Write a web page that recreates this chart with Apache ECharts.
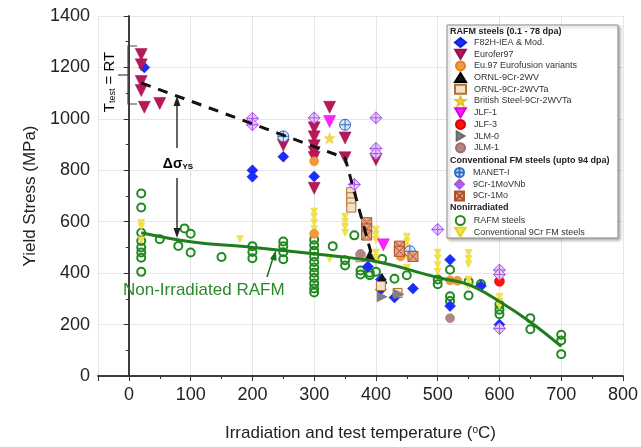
<!DOCTYPE html>
<html>
<head>
<meta charset="utf-8">
<script src="https://cdn.jsdelivr.net/npm/echarts@6/dist/echarts.min.js"></script>
<style>
html,body{margin:0;padding:0;background:#fff;}
#main{width:641px;height:447px;}
</style>
</head>
<body>
<div id="main"></div>
<script>
// 数据 [温度, 屈服强度]
var f82h = [[25,1200],[200,800],[200,775],[250,853],[300,776],[387,426],[408,375],[408,336],[430,305],[460,340],[520,452],[520,272],[570,350],[600,200]];
var eurofer = [[20,1250],[20,1210],[20,1145],[20,1110],[25,1045],[50,1060],[250,898],[300,965],[300,930],[300,895],[300,870],[300,850],[300,730],[325,1045],[350,926],[350,849],[400,841]];
var eu97 = [[300,835],[300,553],[440,465],[520,372],[532,370]];
var ornlWV = [[390,470],[410,380]];
var ornlWVTa = [[360,715],[360,695],[360,675],[360,655],[375,462],[408,350],[435,323]];
var british = [[325,925]];
var jlf1 = [[325,990],[412,510]];
var jlf3 = [[600,368]];
var jlm0 = [[410,308],[437,318]];
var jlm1 = [[375,475],[520,225]];
var manet = [[250,932],[350,977],[455,485]];
var cr1MoVNb = [[200,1002],[200,977],[300,1004],[365,745],[400,1004],[400,885],[400,865],[500,570],[600,412],[600,395],[600,185]];
var cr1Mo = [[385,596],[385,572],[385,548],[438,505],[438,485],[460,465]];
var rafmNon = [[20,710],[20,655],[20,557],[20,525],[20,500],[20,480],[20,460],[20,405],
    [50,532],[80,506],[90,574],[100,553],[100,480],[150,463],
    [200,505],[200,482],[200,458],[250,523],[250,505],[250,481],[250,454],
    [300,530],[300,508],[300,487],[300,464],[300,443],[300,422],[300,402],[300,381],[300,360],[300,340],[300,325],
    [330,505],[350,450],[350,430],[365,547],[375,410],[375,395],[390,402],[390,392],[400,405],[410,455],
    [430,378],[450,392],[500,357],[500,375],[520,413],[520,310],[520,292],[550,313],[550,367],[570,358],
    [600,278],[600,258],[600,240],[650,225],[650,182],[700,160],[700,138],[700,85]];
var conv9Cr = [[20,596],[20,580],[20,528],[180,533],[300,640],[300,620],[300,597],[300,572],[325,455],
    [350,620],[350,600],[350,580],[350,557],[400,569],[400,549],[400,530],[400,480],[400,460],[400,442],
    [450,542],[450,522],[450,500],[450,465],[450,421],[500,480],[500,458],[500,432],[500,406],
    [550,478],[550,455],[550,435],[550,375],[550,350],[600,308],[600,290],[600,272]];
var irrTrend = [[20,1140],[350,848],[392,480]];
var nonIrrFit = [[20,557],[100,522],[200,500],[300,475],[400,445],[500,383],[550,355],[600,290],[650,210],[700,115]];

var legend1 = ['F82H-IEA & Mod.','Eurofer97','Eu.97 Eurofusion variants','ORNL-9Cr-2WV','ORNL-9Cr-2WVTa','British Steel-9Cr-2WVTa','JLF-1','JLF-3','JLM-0','JLM-1'];
var legend2 = ['MANET-I','9Cr-1MoVNb','9Cr-1Mo'];
var legend3 = ['RAFM steels','Conventional 9Cr FM steels'];

var TRI_DOWN = 'path://M-10,-8 L10,-8 L0,9 Z';
var TRI_RIGHT = 'path://M-8,-10 L9,0 L-8,10 Z';
var STAR = 'path://M0,-10 L2.35,-3.24 L9.51,-3.09 L3.8,1.24 L5.88,8.09 L0,4 L-5.88,8.09 L-3.8,1.24 L-9.51,-3.09 L-2.35,-3.24 Z';
var CIRCLE_CROSS = 'path://M10,0 A10,10 0 1 1 -10,0 A10,10 0 1 1 10,0 Z M-10,0 L10,0 M0,-10 L0,10';
var DIAMOND_CROSS = 'path://M0,-10 L10,0 L0,10 L-10,0 Z M-10,0 L10,0 M0,-10 L0,10';
var SQUARE_X = 'path://M-10,-10 L10,-10 L10,10 L-10,10 Z M-10,-10 L10,10 M10,-10 L-10,10';

function scatter(name, data, symbol, size, fill, border, bw) {
    return {
        name: name,
        type: 'scatter',
        data: data,
        symbol: symbol,
        symbolSize: size,
        itemStyle: {color: fill, borderColor: border, borderWidth: bw, opacity: 1}
    };
}

function legendBlock(top, names) {
    return {
        data: names,
        orient: 'vertical',
        left: 454,
        top: top,
        padding: 0,
        itemWidth: 11,
        itemHeight: 9,
        itemGap: 0.7,
        selectedMode: false,
        textStyle: {fontSize: 9, lineHeight: 10, color: '#333', fontFamily: 'Liberation Sans, Arial, sans-serif', padding: [0, 0, 0, 3]}
    };
}

function header(y, text) {
    return {
        type: 'text', z: 100,
        style: {x: 450, y: y, text: text, fill: '#222', font: 'bold 9px "Liberation Sans", Arial, sans-serif', verticalAlign: 'middle'}
    };
}

var myChart = echarts.init(document.getElementById('main'));
var axisColor = '#333';
var option = {
    animation: false,
    textStyle: {fontFamily: 'Liberation Sans, Arial, sans-serif'},
    grid: {left: 98, right: 14, top: 16, bottom: 70},
    xAxis: [{
        type: 'value', min: -50, max: 800, splitNumber: 8,
        axisLine: {lineStyle: {color: axisColor, width: 1.5}},
        axisTick: {length: 5, lineStyle: {color: axisColor}},
        minorTick: {show: true, splitNumber: 2, length: 3, lineStyle: {color: axisColor}},
        axisLabel: {showMinLabel: false, fontSize: 18, color: '#222', margin: 10},
        splitLine: {lineStyle: {color: '#e6e6e6'}},
        name: 'Irradiation and test temperature ({s|o}C)',
        nameLocation: 'middle', nameGap: 49,
        nameTextStyle: {fontSize: 17, color: '#222', rich: {s: {fontSize: 10, verticalAlign: 'top', color: '#222'}}}
    }, {
        type: 'value', min: -50, max: 800, splitNumber: 8, position: 'top',
        axisLine: {lineStyle: {color: axisColor, width: 1.5}},
        axisTick: {inside: true, length: 5, lineStyle: {color: axisColor}},
        minorTick: {show: true, splitNumber: 2, length: 3, lineStyle: {color: axisColor}},
        axisLabel: {show: false},
        splitLine: {show: false}
    }],
    yAxis: [{
        type: 'value', min: 0, max: 1400, interval: 200,
        axisLine: {show: true, lineStyle: {color: axisColor, width: 1.5}},
        axisTick: {show: true, length: 5, lineStyle: {color: axisColor}},
        minorTick: {show: true, splitNumber: 2, length: 3, lineStyle: {color: axisColor}},
        axisLabel: {fontSize: 18, color: '#222', margin: 8, formatter: function (v) { return String(v); }},
        splitLine: {lineStyle: {color: '#e6e6e6'}},
        name: 'Yield Stress (MPa)', nameLocation: 'middle', nameGap: 55,
        nameTextStyle: {fontSize: 17, color: '#222'}
    }, {
        type: 'value', min: 0, max: 1400, interval: 200, position: 'right',
        axisLine: {show: true, lineStyle: {color: axisColor, width: 1.5}},
        axisTick: {show: true, inside: true, length: 5, lineStyle: {color: axisColor}},
        minorTick: {show: true, splitNumber: 2, length: 3, lineStyle: {color: axisColor}},
        axisLabel: {show: false},
        splitLine: {show: false}
    }],
    legend: [legendBlock(37, legend1), legendBlock(167, legend2), legendBlock(215, legend3)],
    series: [
        scatter('RAFM steels', rafmNon, 'circle', 8, 'rgba(255,255,255,0)', '#1f8a1f', 2),
        scatter('Conventional 9Cr FM steels', conv9Cr, TRI_DOWN, 7, '#f2e34a', '#e8d230', 0.5),
        {
            type: 'line', data: nonIrrFit, smooth: 0.4, symbol: 'none', z: 3,
            lineStyle: {color: '#1e7d1e', width: 3}
        },
        scatter('F82H-IEA & Mod.', f82h, 'diamond', 11, '#1a2cff', '#1020d0', 0.5),
        scatter('Eurofer97', eurofer, TRI_DOWN, 12, '#b8185a', '#961048', 0.5),
        scatter('Eu.97 Eurofusion variants', eu97, 'circle', 9, '#f29a3a', '#e08020', 0.5),
        scatter('ORNL-9Cr-2WV', ornlWV, 'triangle', 10, '#111', '#000', 0.5),
        scatter('ORNL-9Cr-2WVTa', ornlWVTa, 'rect', 9, '#f1e2c6', '#b0703a', 1),
        scatter('British Steel-9Cr-2WVTa', british, STAR, 11, '#f7d840', '#e8c020', 0.5),
        scatter('JLF-1', jlf1, TRI_DOWN, 12, '#ff22ff', '#e000e0', 0.5),
        scatter('JLF-3', jlf3, 'circle', 10, '#ff1010', '#e00000', 0.5),
        scatter('JLM-0', jlm0, TRI_RIGHT, 10, '#808080', '#666', 0.5),
        scatter('JLM-1', jlm1, 'circle', 9, '#b38585', '#9a6f6f', 0.5),
        scatter('MANET-I', manet, CIRCLE_CROSS, 11, '#d6e4f7', '#2f6fc0', 1),
        scatter('9Cr-1MoVNb', cr1MoVNb, DIAMOND_CROSS, 12, '#e6c8fb', '#a855e8', 1),
        scatter('9Cr-1Mo', cr1Mo, SQUARE_X, 10, '#e4a27e', '#b0502e', 1),
        {
            type: 'line', data: irrTrend, symbol: 'none', z: 4,
            lineStyle: {color: '#111', width: 3, type: [10, 8]}
        }
    ],
    graphic: [
        {   // 图例框
            type: 'rect', z: 3,
            shape: {x: 447, y: 25, width: 171, height: 213},
            style: {fill: '#fff', stroke: '#8a8a8a', lineWidth: 1, shadowBlur: 3, shadowColor: 'rgba(0,0,0,0.3)', shadowOffsetX: 2, shadowOffsetY: 2}
        },
        header(32, 'RAFM steels (0.1 - 78 dpa)'),
        header(161, 'Conventional FM steels (upto 94 dpa)'),
        header(208, 'Nonirradiated'),
        {   // T test = RT 括号
            type: 'polyline', z: 100,
            shape: {points: [[137, 46], [128, 46], [128, 104], [137, 104]]},
            style: {stroke: '#444', lineWidth: 1.2, fill: null}
        },
        {
            type: 'line', z: 100,
            shape: {x1: 118, y1: 75, x2: 128, y2: 75},
            style: {stroke: '#444', lineWidth: 1.2}
        },
        {
            type: 'text', z: 100, x: 110, y: 82, rotation: Math.PI / 2,
            style: {
                text: '{a|T}{b|test}{a| = RT}', align: 'center', verticalAlign: 'middle',
                rich: {a: {fontSize: 15, color: '#222'}, b: {fontSize: 9, color: '#222', verticalAlign: 'bottom'}}
            }
        },
        {   // Δσ 箭头
            type: 'line', z: 100,
            shape: {x1: 177, y1: 103, x2: 177, y2: 148},
            style: {stroke: '#333', lineWidth: 1.5}
        },
        {
            type: 'polygon', z: 100,
            shape: {points: [[177, 96], [173.5, 106], [180.5, 106]]},
            style: {fill: '#222'}
        },
        {
            type: 'line', z: 100,
            shape: {x1: 177, y1: 178, x2: 177, y2: 230},
            style: {stroke: '#333', lineWidth: 1.5}
        },
        {
            type: 'polygon', z: 100,
            shape: {points: [[177, 238], [173.5, 228], [180.5, 228]]},
            style: {fill: '#222'}
        },
        {
            type: 'text', z: 100, x: 178, y: 164,
            style: {
                text: '{a|Δσ}{b|YS}', align: 'center', verticalAlign: 'middle',
                rich: {a: {fontSize: 14, color: '#222', fontWeight: 'bold'}, b: {fontSize: 8, color: '#222', fontWeight: 'bold', verticalAlign: 'bottom'}}
            }
        },
        {   // 绿色标注
            type: 'text', z: 100, x: 123, y: 290,
            style: {text: 'Non-Irradiated RAFM', fontSize: 17, fill: '#2a8a2a', verticalAlign: 'middle', fontFamily: 'Liberation Sans, Arial, sans-serif'}
        },
        {
            type: 'line', z: 100,
            shape: {x1: 267, y1: 277, x2: 273, y2: 258},
            style: {stroke: '#1e6e1e', lineWidth: 1.5}
        },
        {
            type: 'polygon', z: 100,
            shape: {points: [[276, 250], [270, 259], [276.5, 261]]},
            style: {fill: '#1e6e1e'}
        }
    ]
};
myChart.setOption(option);
</script>
</body>
</html>
